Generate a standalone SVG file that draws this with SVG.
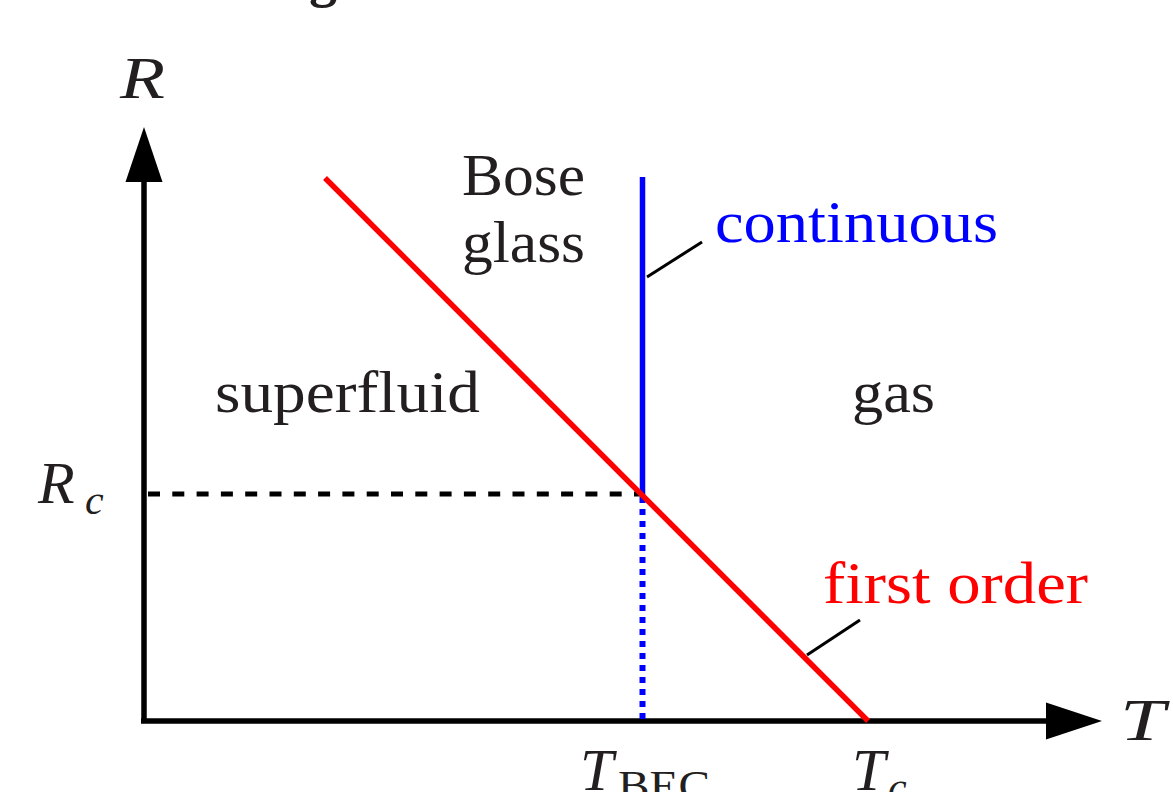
<svg xmlns="http://www.w3.org/2000/svg" width="1173" height="792" viewBox="0 0 1173 792">
<style>
text{font-family:"Liberation Serif","Times New Roman",serif;fill:#231F20;font-size:60px}
.it{font-style:italic}
.sub{font-size:42px}
.ax{stroke:#000;stroke-width:5.5;fill:none}
.lead{stroke:#000;stroke-width:3;fill:none}
</style>
<rect width="1173" height="792" fill="#fff"/>
<g id="title"><text x="309" y="-4" style="font-weight:bold;font-size:56px">g</text></g>
<g id="connectors">
<line class="ax" x1="144" y1="723" x2="144" y2="180"/>
<polygon points="144,127 125.5,182 162.5,182" fill="#000"/>
<line class="ax" x1="141" y1="721" x2="1048" y2="721"/>
<polygon points="1102,721 1046,702.5 1046,739.5" fill="#000"/>
<line x1="148" y1="494" x2="640" y2="494" stroke="#000" stroke-width="5" stroke-dasharray="12 12.3"/>
<line x1="642.5" y1="497" x2="642.5" y2="722" stroke="#0000FF" stroke-width="6" stroke-dasharray="6 6"/>
<line x1="642.5" y1="177" x2="642.5" y2="495" stroke="#0000FF" stroke-width="5.5"/>
<line x1="325" y1="178" x2="868" y2="721" stroke="#FF0000" stroke-width="5.5"/>
<line class="lead" x1="647" y1="277" x2="702" y2="242"/>
<line class="lead" x1="807" y1="655" x2="860" y2="620"/>
</g>
<g id="axis-R"><text class="it" x="120" y="98" textLength="45" lengthAdjust="spacingAndGlyphs">R</text></g>
<g id="axis-T"><text class="it" x="1120" y="740" textLength="45" lengthAdjust="spacingAndGlyphs">T</text></g>
<g id="Rc"><text class="it" x="38" y="503">R<tspan class="sub" x="85" y="514">c</tspan></text></g>
<g id="TBEC"><text class="it" x="580" y="790">T</text><text class="sub" x="618" y="800" textLength="92" lengthAdjust="spacingAndGlyphs">BEC</text></g>
<g id="Tc"><text class="it" x="852" y="790">T</text><text class="it sub" x="888" y="801">c</text></g>
<g id="bose-glass"><text x="462" y="195" textLength="123" lengthAdjust="spacingAndGlyphs">Bose</text><text x="462" y="262" textLength="123" lengthAdjust="spacingAndGlyphs">glass</text></g>
<g id="superfluid"><text x="215" y="412" textLength="265" lengthAdjust="spacingAndGlyphs">superfluid</text></g>
<g id="gas"><text x="852" y="412" textLength="83" lengthAdjust="spacingAndGlyphs">gas</text></g>
<g id="continuous"><text x="715" y="242" textLength="283" lengthAdjust="spacingAndGlyphs" style="fill:#0000FF">continuous</text></g>
<g id="first-order"><text x="823" y="603" textLength="265" lengthAdjust="spacingAndGlyphs" style="fill:#FF0000">first order</text></g>
</svg>
